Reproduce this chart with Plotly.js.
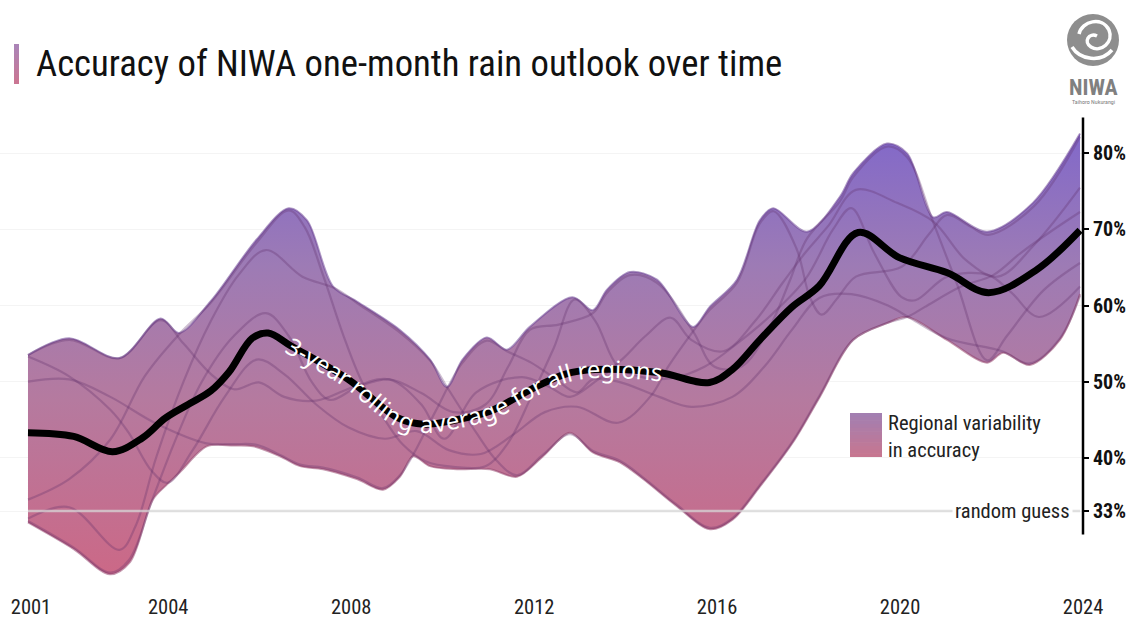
<!DOCTYPE html>
<html><head><meta charset="utf-8">
<script src="https://cdn.plot.ly/plotly-3.0.1.min.js"></script>
<style>html,body{margin:0;padding:0;background:#fff;} #chart{width:1140px;height:641px;}</style>
</head><body><div id="chart"></div>
<script>
// ---------------- DATA ----------------
const TICK_YEARS = [2001, 2004, 2008, 2012, 2016, 2020, 2024];
const TICK_PCT = [33, 40, 50, 60, 70, 80];
const TICK_PCT_LABELS = ['33%', '40%', '50%', '60%', '70%', '80%'];
const RANDOM_GUESS = 33;

// upper / lower envelope of regional accuracy
const upperYears = [2001, 2001.9, 2003.0, 2003.9, 2004.3, 2005.0, 2006.0, 2006.7, 2007.1, 2007.67, 2008.2, 2009.13, 2009.79, 2010.16, 2010.5, 2011.03, 2011.47, 2011.97, 2012.9, 2013.35, 2013.66, 2014.16, 2014.75, 2015.54, 2015.9, 2016.5, 2017.0, 2017.29, 2018.03, 2018.75, 2019.04, 2019.78, 2020.22, 2020.79, 2021.09, 2021.97, 2022.97, 2024.0];
const upperPct   = [53.5, 55.7, 53.1, 58.3, 56.4, 60.6, 68.7, 72.8, 71.2, 62.5, 60.5, 56.8, 52.9, 49.3, 52.9, 55.8, 54.2, 57.2, 61.1, 59.4, 62.1, 64.4, 63.4, 57.2, 59.8, 63.4, 71.2, 72.8, 69.7, 74.3, 77.4, 81.3, 80.0, 71.6, 72.3, 69.7, 73.5, 82.6];
const lowerYears = [2001, 2002.0, 2002.79, 2003.23, 2003.73, 2004.04, 2004.32, 2004.91, 2005.5, 2005.92, 2006.51, 2006.95, 2007.45, 2008.19, 2008.76, 2009.13, 2009.42, 2009.79, 2010.38, 2011.1, 2011.69, 2012.26, 2012.85, 2013.35, 2013.94, 2014.45, 2015.19, 2015.91, 2016.41, 2017.0, 2017.72, 2018.31, 2019.04, 2019.78, 2020.22, 2021.09, 2021.97, 2022.32, 2022.9, 2023.56, 2024.0];
const lowerPct   = [31.5, 28.0, 24.7, 26.3, 34.5, 36.5, 38.1, 41.5, 41.6, 41.5, 40.2, 38.9, 38.5, 37.2, 35.8, 37.5, 40.2, 38.9, 38.5, 38.5, 37.5, 40.2, 43.3, 40.7, 39.4, 37.2, 33.6, 30.6, 31.9, 36.2, 42.0, 48.0, 55.5, 57.7, 58.5, 55.5, 52.5, 53.8, 52.2, 55.5, 61.5];

// individual regions
const region1Years = [2001, 2001.9, 2002.8, 2003.55, 2004.3, 2005, 2006, 2006.7, 2007.05, 2007.45, 2007.9, 2008.3, 2008.8, 2009.2, 2009.7, 2010.3, 2011.0, 2011.5, 2012.0, 2012.5, 2012.95, 2013.4, 2013.9, 2014.5, 2015.1, 2015.8, 2016.5, 2017.2, 2018.0, 2018.6, 2019.0, 2019.5, 2020.1, 2020.4, 2021.1, 2022.0, 2022.5, 2023.1, 2024];
const region1Pct   = [34.5, 37.2, 42.4, 50.7, 56.2, 60.4, 68.3, 72.5, 70.3, 64, 56, 50, 45, 41.7, 39.5, 38.8, 38.9, 42, 48, 54.5, 60.8, 58, 52, 50.5, 50.5, 52, 55, 58.5, 63.5, 70, 72.8, 66.9, 61.1, 60.7, 63.8, 64.0, 61.7, 58.5, 62.5];
const region2Years = [2001, 2001.9, 2003.0, 2003.35, 2003.8, 2004.4, 2005.0, 2005.6, 2006.2, 2007.0, 2007.7, 2008.2, 2009.1, 2009.8, 2010.16, 2010.8, 2011.25, 2011.69, 2012.26, 2012.85, 2013.35, 2013.94, 2014.45, 2015.19, 2015.91, 2016.41, 2017.0, 2017.72, 2018.31, 2019.04, 2019.78, 2020.22, 2020.6, 2021.4, 2022.1, 2022.7, 2023.4, 2024];
const region2Pct   = [32, 33.5, 27.9, 31, 40, 50, 58, 64, 67.3, 63.8, 62.3, 60.3, 56.6, 52.7, 49.3, 43.3, 39.6, 37.7, 40.4, 43.1, 40.9, 39.6, 37.4, 33.8, 30.8, 32.1, 36.4, 42.2, 48.2, 55.5, 57.7, 58.5, 59.8, 62.5, 64.0, 66.9, 69.9, 72.3];
const region3Years = [2001, 2002.0, 2002.8, 2003.2, 2003.73, 2004.2, 2004.8, 2005.5, 2006.2, 2006.7, 2007.2, 2007.6, 2008.2, 2008.9, 2009.6, 2010.3, 2011.0, 2011.5, 2011.97, 2012.6, 2013.35, 2013.66, 2014.16, 2014.75, 2015.54, 2016.0, 2016.6, 2017.2, 2017.65, 2018.03, 2018.75, 2019.04, 2019.78, 2020.22, 2020.8, 2021.3, 2021.97, 2022.4, 2023.2, 2024];
const region3Pct   = [31.7, 28.2, 24.9, 26.5, 34.7, 42, 50, 56, 59, 56, 50, 47.6, 49.3, 50.3, 48.5, 46, 47, 52, 56.8, 57.5, 59.0, 61.7, 64.0, 63.0, 56.6, 52, 52, 57, 63.2, 68.8, 73.7, 76.9, 80.9, 79.5, 70.8, 63, 52.8, 56, 62, 65.6];
const region4Years = [2001, 2001.9, 2002.8, 2003.8, 2004.9, 2005.5, 2006, 2006.5, 2006.95, 2007.45, 2008.2, 2008.76, 2009.13, 2009.42, 2009.9, 2010.5, 2011.03, 2011.47, 2012.0, 2012.5, 2013.0, 2013.35, 2013.9, 2014.8, 2015.5, 2016.4, 2017.1, 2017.7, 2018.3, 2019.0, 2019.8, 2020.3, 2021.09, 2022.3, 2022.9, 2023.56, 2024];
const region4Pct   = [50, 50.3, 48.0, 44.5, 41.9, 41.8, 41.7, 40.4, 39.1, 38.7, 37.4, 36.0, 37.7, 40.4, 46, 52.5, 55.4, 54.0, 52.5, 50.5, 48.6, 50.3, 50.0, 48.0, 46.7, 48.0, 52, 56.8, 61, 61.5, 60, 58.3, 55.7, 54.0, 52.4, 55.7, 61.3];
const region5Years = [2001, 2001.9, 2002.8, 2003.2, 2003.7, 2004.05, 2004.6, 2005.3, 2006.0, 2006.6, 2007.3, 2008.0, 2008.8, 2009.5, 2010.2, 2010.9, 2011.6, 2012.3, 2013.0, 2013.9, 2014.6, 2015.0, 2015.54, 2015.9, 2016.5, 2017.0, 2017.3, 2017.8, 2018.1, 2018.35, 2018.7, 2019.1, 2020.1, 2020.7, 2021.09, 2021.6, 2022.0, 2023.0, 2024];
const region5Pct   = [53.3, 50.7, 46.3, 43.3, 38.3, 36.7, 41, 48, 52.9, 51, 47, 44, 42.5, 43.5, 41, 40.5, 43, 46, 46.7, 44.6, 48, 52, 56.6, 59.4, 63.0, 70.8, 72.4, 67.5, 61, 58.8, 61, 63.8, 65.1, 69.4, 71.9, 70.4, 69.3, 73.1, 82.2];
const region6Years = [2001, 2001.9, 2003.0, 2003.9, 2004.4, 2005.0, 2005.5, 2006.05, 2006.6, 2007.3, 2008.2, 2008.9, 2009.6, 2010.1, 2010.8, 2011.8, 2012.4, 2012.85, 2013.4, 2014.0, 2014.5, 2015.05, 2015.5, 2016.2, 2016.9, 2017.5, 2018.0, 2018.5, 2019.1, 2020.0, 2020.8, 2021.5, 2022.2, 2023.0, 2024];
const region6Pct   = [53.5, 55.5, 53.1, 58.1, 55, 51, 49, 49.9, 48, 47.5, 49.5, 50.3, 47, 42.5, 48.6, 50.6, 49.3, 48, 50, 53, 56, 58.4, 55.5, 54, 58, 63, 67, 70.5, 75.2, 73.5, 71, 66, 63.8, 68, 75.5];

// 3-year rolling average for all regions
const avgYears = [2001, 2002, 2002.85, 2003.5, 2004.0, 2004.5, 2005.0, 2005.4, 2005.9, 2006.25, 2006.75, 2008.0, 2009.1, 2009.65, 2010.3, 2011.1, 2012.0, 2012.75, 2013.4, 2014.8, 2015.9, 2016.4, 2017.0, 2017.7, 2018.3, 2019.15, 2020.05, 2021.1, 2022.0, 2023.05, 2024.0];
const avgPct   = [43.3, 42.8, 40.8, 42.6, 45.2, 47.0, 48.8, 51.3, 55.7, 56.4, 54.7, 50.3, 45.2, 44.4, 44.9, 46.1, 49.0, 51.0, 51.6, 51.2, 49.9, 51.6, 55.5, 59.8, 62.6, 69.6, 66.3, 64.3, 61.7, 64.7, 69.9];

const TITLE = 'Accuracy of NIWA one-month rain outlook over time';
const AVG_LABEL = '3-year rolling average for all regions';
const LEGEND_LABEL = 'Regional variability<br>in accuracy';

// ---------------- LAYOUT HELPERS ----------------
const ML = 0, MT = 111, PW = 1083, PH = 481;
const px = x => (x - ML) / PW;
const py = y => (MT + PH - y) / PH;
const COND = '"Roboto Condensed", "Liberation Sans Narrow", "DejaVu Sans Condensed", "Arial Narrow", sans-serif';

function mix(c1, c2, t) {
  const a = [1,3,5].map(i => parseInt(c1.substr(i,2),16));
  const b = [1,3,5].map(i => parseInt(c2.substr(i,2),16));
  return 'rgb(' + a.map((v,i) => Math.round(v + (b[i]-v)*t)).join(',') + ')';
}
function gradRects(x0, y0, x1, y1, top, bot, n) {
  const out = [];
  for (let i = 0; i < n; i++) {
    const ya = y0 + (y1 - y0) * i / n, yb = y0 + (y1 - y0) * (i + 1) / n + 0.6;
    out.push({type:'rect', xref:'paper', yref:'paper', x0:px(x0), x1:px(x1), y0:py(ya), y1:py(Math.min(yb,y1)),
      fillcolor: mix(top, bot, (i + 0.5) / n), line:{width:0}, layer:'above'});
  }
  return out;
}
function pathPx(cmds) { // convert pixel path to paper coordinates
  return cmds.replace(/(-?\d+(\.\d+)?),(-?\d+(\.\d+)?)/g, (m, a, b, c) => px(+a).toFixed(5) + ',' + py(+c).toFixed(5));
}

const regionLine = {color:'rgba(95,45,105,0.30)', width:2.2, shape:'spline', smoothing:1};
const regions = [
  [region1Years, region1Pct], [region2Years, region2Pct], [region3Years, region3Pct],
  [region4Years, region4Pct], [region5Years, region5Pct], [region6Years, region6Pct]
];

const data = [
  {x: lowerYears, y: lowerPct, type:'scatter', mode:'lines', line:{color:'rgba(150,70,110,0.55)', width:2, shape:'spline', smoothing:0.9}, hoverinfo:'skip', showlegend:false},
  {x: upperYears, y: upperPct, type:'scatter', mode:'lines', fill:'tonexty',
   fillgradient:{type:'vertical', start:24, stop:83, colorscale:[[0,'#cc6886'],[0.4,'#b57a9f'],[0.7,'#9d7bb5'],[1,'#8168ca']]},
   line:{color:'rgba(110,70,150,0.55)', width:2, shape:'spline', smoothing:0.9}, hoverinfo:'skip', showlegend:false}
];
regions.forEach(r => data.push({x:r[0], y:r[1], type:'scatter', mode:'lines', line:regionLine, hoverinfo:'skip', showlegend:false}));
data.push({x:[TICK_YEARS[0], TICK_YEARS[TICK_YEARS.length-1]], y:[RANDOM_GUESS, RANDOM_GUESS], type:'scatter', mode:'lines',
  line:{color:'rgba(215,215,215,0.75)', width:2.5}, hoverinfo:'skip', showlegend:false});
data.push({x: avgYears, y: avgPct, type:'scatter', mode:'lines', line:{color:'#000', width:7, shape:'spline', smoothing:1}, hoverinfo:'skip', showlegend:false});

const shapes = [
  {type:'line', xref:'paper', yref:'y', x0:1, x1:1, y0:29.9, y1:84.7, line:{color:'#000', width:2.5}},
  ...gradRects(14, 44, 19, 84, '#a985b8', '#cc7590', 8),
  ...gradRects(850, 413, 882, 457, '#a17fb2', '#c8768f', 12),
  {type:'circle', xref:'paper', yref:'paper', x0:px(1067), x1:px(1119), y0:py(66), y1:py(14), fillcolor:'#8e8e8e', line:{width:0}},
  {type:'path', xref:'paper', yref:'paper', path: pathPx('M1079,34 C1082,21 1102,16 1109,30 C1114,42 1101,53 1091,47 C1083,42 1089,32 1097,36'), line:{color:'#fff', width:3.5}},
  {type:'path', xref:'paper', yref:'paper', path: pathPx('M1072,47 C1080,60 1101,63 1112,50'), line:{color:'#fff', width:3.5}},
];

const annotations = [
  {xref:'paper', yref:'paper', x:px(34), y:py(63), xanchor:'left', yanchor:'middle', showarrow:false, text:TITLE,
   font:{family:COND, size:36.7, color:'#111'}},
  {xref:'paper', x:px(1073), y:RANDOM_GUESS, yref:'y', xanchor:'right', yanchor:'middle', showarrow:false, text:'random guess',
   bgcolor:'#fff', borderpad:2, font:{family:COND, size:20.5, color:'#222'}},
  {xref:'paper', yref:'paper', x:px(886), y:py(436), xanchor:'left', yanchor:'middle', align:'left', showarrow:false, text:LEGEND_LABEL,
   font:{family:COND, size:20.5, color:'#222'}},
  {xref:'paper', yref:'paper', x:px(1093), y:py(87), xanchor:'center', yanchor:'middle', showarrow:false, text:'NIWA',
   font:{family:COND, size:22, color:'#808080', weight:'bold'}},
  {xref:'paper', yref:'paper', x:px(1093), y:py(101), xanchor:'center', yanchor:'middle', showarrow:false, text:'Taihoro Nukurangi',
   font:{family:COND, size:6, color:'#808080'}},
];

const layout = {
  width:1140, height:641, margin:{l:ML, r:1140-ML-PW, t:MT, b:641-MT-PH}, paper_bgcolor:'#fff', plot_bgcolor:'#fff',
  showlegend:false,
  xaxis:{range:[2000.388, 2024.065], tickvals:TICK_YEARS, ticktext:TICK_YEARS.map(String), showgrid:false, zeroline:false, showline:false,
    ticks:'', tickfont:{family:COND, size:20.5, color:'#222'}, ticklabelshift:3, fixedrange:true},
  yaxis:{range:[22.36, 85.57], side:'right', tickvals:TICK_PCT, ticktext:TICK_PCT_LABELS, showgrid:true, gridcolor:'#f4f4f4', gridwidth:1,
    zeroline:false, showline:false, ticks:'outside', ticklen:5, tickwidth:2, tickcolor:'#000',
    tickfont:{family:COND, size:20, color:'#111', weight:'bold'}, fixedrange:true},
  shapes: shapes, annotations: annotations
};

Plotly.newPlot('chart', data, layout, {staticPlot:true, displayModeBar:false}).then(function(gd){
  const traces = gd.querySelectorAll('.scatterlayer .trace');
  const avgTrace = traces[traces.length - 1];
  const path = avgTrace.querySelector('path.js-line');
  if (!path) return;
  path.setAttribute('id', 'avgpath');
  function lenAtX(X) {
    let lo = 0, hi = path.getTotalLength();
    for (let i = 0; i < 40; i++) { const m = (lo + hi) / 2; if (path.getPointAtLength(m).x < X) lo = m; else hi = m; }
    return lo;
  }
  const s = lenAtX(288 - ML), e = lenAtX(662 - ML);
  const NS = 'http://www.w3.org/2000/svg';
  const t = document.createElementNS(NS, 'text');
  t.setAttribute('font-family', '"Noto Sans", "Open Sans", sans-serif');
  t.setAttribute('font-size', '20');
  t.setAttribute('fill', '#fff');
  const tp = document.createElementNS(NS, 'textPath');
  tp.setAttribute('href', '#avgpath');
  tp.setAttributeNS('http://www.w3.org/1999/xlink', 'xlink:href', '#avgpath');
  tp.setAttribute('startOffset', s);
  const ts = document.createElementNS(NS, 'tspan');
  ts.setAttribute('dy', '0.36em');
  ts.textContent = AVG_LABEL;
  tp.appendChild(ts);
  t.appendChild(tp);
  path.parentNode.appendChild(t);
  const len = t.getComputedTextLength();
  if (len > 0) t.setAttribute('font-size', (20 * (e - s) / len).toFixed(2));
});
</script></body></html>
